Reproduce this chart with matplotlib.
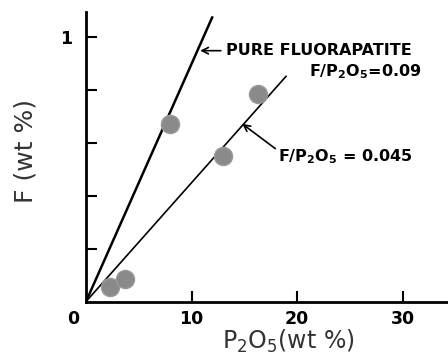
import matplotlib.pyplot as plt

# sample points
p2o5 = [2.3, 3.7, 8.0, 13.0, 16.3]
fluor = [0.056, 0.085, 0.672, 0.553, 0.786]

# reference ratios F/P2O5
ratios = [0.09, 0.045]
line_end = [12.0, 19.0]

fig = plt.figure(figsize=(4.48, 3.59), dpi=100)
ax = fig.add_axes([0.192, 0.16, 0.808, 0.807])

for r, xe in zip(ratios, line_end):
    lw = 1.8 if r == 0.09 else 1.2
    ax.plot([0, xe], [0, r * xe], color='black', lw=lw, solid_capstyle='butt')

ax.scatter(p2o5, fluor, s=170, color='#8a8a8a', edgecolors='#9a9a9a', zorder=3)

ax.set_xlim(0, 34.3)
ax.set_ylim(0, 1.097)
for s in ['top', 'right']:
    ax.spines[s].set_visible(False)
for s in ['left', 'bottom']:
    ax.spines[s].set_linewidth(2)

ax.set_xticks([10, 20, 30])
ax.set_xticklabels(['10', '20', '30'], fontsize=12.5, fontweight='bold')
ax.set_yticks([0.2, 0.4, 0.6, 0.8, 1.0])
ax.set_yticklabels(['', '', '', '', '1'], fontsize=12.5, fontweight='bold')
ax.tick_params(direction='in', length=8, width=1.5)
ax.tick_params(axis='x', pad=6)
ax.tick_params(axis='y', pad=10)
ax.annotate('0', xy=(0, 0), xytext=(-9, -6), textcoords='offset points',
            ha='center', va='top', fontsize=12.5, fontweight='bold')

ax.set_xlabel(r'P$_2$O$_5$(wt %)', fontsize=17, color='#333333')
ax.xaxis.set_label_coords(0.558, -0.092)
ax.set_ylabel('F (wt %)', fontsize=18, color='#333333')
ax.yaxis.set_label_coords(-0.135, 0.52)

ax.annotate('PURE FLUORAPATITE', xy=(10.55, 0.95), xytext=(13.3, 0.95),
            fontsize=11.5, fontweight='bold', va='center', ha='left',
            arrowprops=dict(arrowstyle='->', color='black', lw=1.2))
ax.text(31.8, 0.872, r'F/P$_\mathbf{2}$O$_\mathbf{5}$=0.09', fontsize=11.5,
        fontweight='bold', ha='right', va='center')
ax.annotate(r'F/P$_\mathbf{2}$O$_\mathbf{5}$ = 0.045', xy=(14.8, 0.673),
            xytext=(18.2, 0.55), fontsize=11.5, fontweight='bold',
            va='center', ha='left',
            arrowprops=dict(arrowstyle='->', color='black', lw=1.2,
                            shrinkA=0, shrinkB=0,
                            relpos=(0, 0.8)))

fig.savefig('out.png', dpi=100)
